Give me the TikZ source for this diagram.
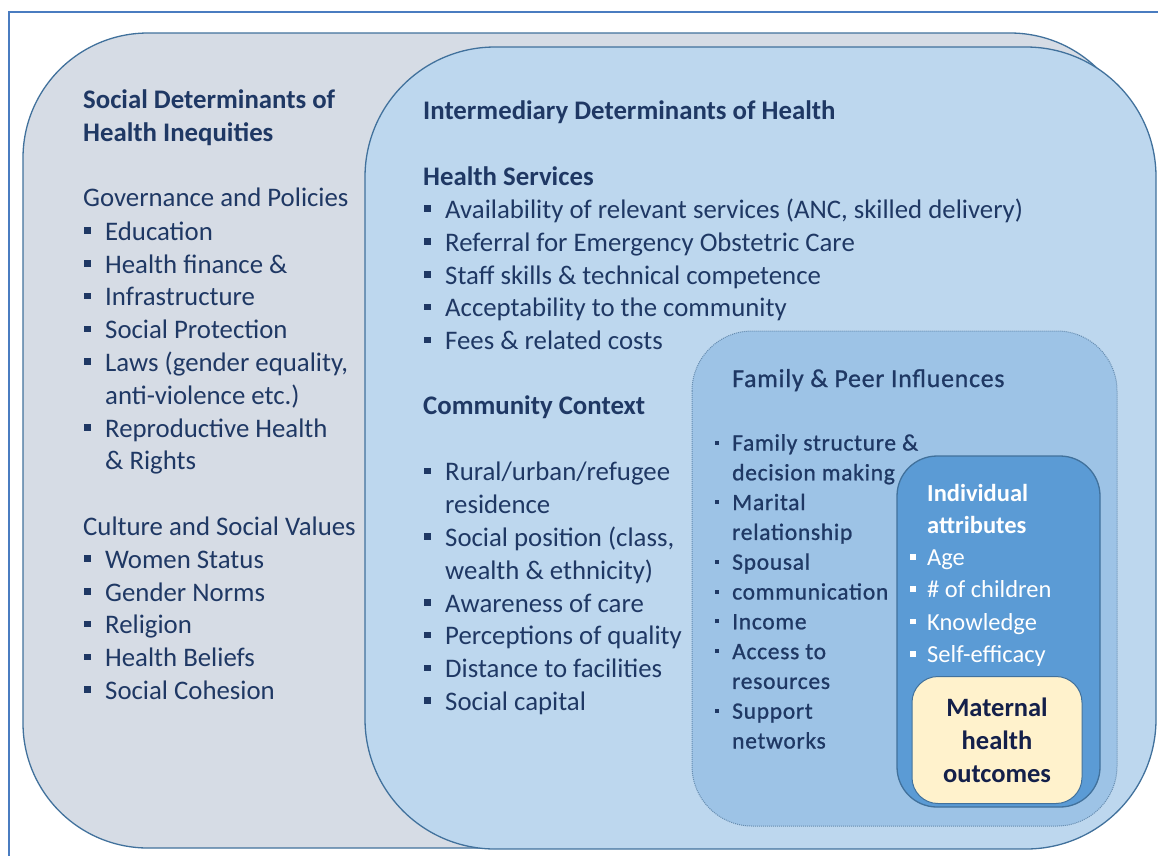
\documentclass[tikz,border=0pt]{standalone}
\usepackage{fontspec}
\setmainfont{Carlito}
\newfontfamily\famfont[FakeBold=0.9,LetterSpace=3]{Carlito}
\definecolor{navy}{HTML}{1F3864}
\definecolor{frameblue}{HTML}{4A7CC0}
\definecolor{edgeblue}{HTML}{41719C}
\definecolor{grayfill}{HTML}{D6DCE5}
\definecolor{lightblue}{HTML}{BDD7EE}
\definecolor{midblue}{HTML}{9DC3E6}
\definecolor{deepblue}{HTML}{5B9BD5}
\definecolor{cream}{HTML}{FFF2CC}
\definecolor{darktext}{HTML}{14204A}
\newcommand{\bul}{\makebox[22pt][l]{\hspace{1pt}\rule[6.5pt]{6.5pt}{6.5pt}}}
\newcommand{\ind}{\hspace{22pt}}
\newcommand{\sbul}{\makebox[19pt][l]{\hspace{2pt}\rule[6pt]{4pt}{4pt}}}
\newcommand{\sind}{\hspace{19pt}}
\newcommand{\wbul}{\makebox[18pt][l]{\hspace{1pt}\rule[6pt]{5.5pt}{5.5pt}}}
\tikzset{
  box/.style={draw=edgeblue, line width=1.3pt},
  lt/.style={anchor=base west, inner sep=0pt, text=navy, font=\fontsize{26.8}{32.8}\selectfont},
  ft/.style={anchor=base west, inner sep=0pt, text=navy, font=\famfont\fontsize{23.5}{29.8}\selectfont},
  it/.style={anchor=base west, inner sep=0pt, text=white, font=\fontsize{24.5}{32.3}\selectfont},
}
\begin{document}
\begin{tikzpicture}[x=1pt,y=-1pt]
\useasboundingbox (0,0) rectangle (1158,855);
% outer frame
\draw[frameblue, line width=2pt] (9,875) -- (9,12) -- (1175,12);
% gray box
\draw[box, fill=grayfill, rounded corners=125pt] (23,33) rectangle (1135,848);
% intermediary box
\draw[box, fill=lightblue, rounded corners=130pt] (365,47) rectangle (1156,849);
% family box
\draw[draw=edgeblue!80, line width=1pt, densely dotted, fill=midblue, rounded corners=60pt] (692,331) rectangle (1117,826);
% individual box
\draw[box, fill=deepblue, rounded corners=40pt] (897,456) rectangle (1100,807);
% maternal outcomes
\node[draw=edgeblue, line width=1pt, fill=cream, rounded corners=26pt,
      minimum width=170pt, minimum height=127pt, inner sep=0pt,
      align=center, text=darktext,
      font=\fontsize{26.5}{33}\selectfont\bfseries] (mat) at (997,740)
      {Maternal\\health\\outcomes};

% left column
\node[lt] (l1) at (83,108.5) {\bfseries Social Determinants of};
\node[lt] (l2) at (83,141.3) {\bfseries Health Inequities};
\node[lt] (l4) at (83,206.9) {Governance and Policies};
\node[lt] (l5) at (83,240.2) {\bul Education};
\node[lt] (l6) at (83,273.0) {\bul Health finance \&};
\node[lt] (l7) at (83,305.8) {\bul Infrastructure};
\node[lt] (l8) at (83,338.6) {\bul Social Protection};
\node[lt] (l9) at (83,371.4) {\bul Laws (gender equality,};
\node[lt] (l10) at (83,404.2) {\ind anti-violence etc.)};
\node[lt] (l11) at (83,437.0) {\bul Reproductive Health};
\node[lt] (l12) at (83,469.8) {\ind \& Rights};
\node[lt] (l14) at (83,535.4) {Culture and Social Values};
\node[lt] (l15) at (83,568.2) {\bul Women Status};
\node[lt] (l16) at (83,601.0) {\bul Gender Norms};
\node[lt] (l17) at (83,633.8) {\bul Religion};
\node[lt] (l18) at (83,666.6) {\bul Health Beliefs};
\node[lt] (l19) at (83,699.4) {\bul Social Cohesion};

% middle column
\node[lt] (m1) at (423,119.5) {\bfseries Intermediary Determinants of Health};
\node[lt] (m3) at (423,185.1) {\bfseries Health Services};
\node[lt] (m4) at (423,218.4) {\bul Availability of relevant services (ANC, skilled delivery)};
\node[lt] (m5) at (423,251.2) {\bul Referral for Emergency Obstetric Care};
\node[lt] (m6) at (423,284.0) {\bul Staff skills \& technical competence};
\node[lt] (m7) at (423,316.8) {\bul Acceptability to the community};
\node[lt] (m8) at (423,349.6) {\bul Fees \& related costs};
\node[lt] (m10) at (423,414.7) {\bfseries Community Context};
\node[lt] (m12) at (423,480.8) {\bul Rural/urban/refugee};
\node[lt] (m13) at (423,513.6) {\ind residence};
\node[lt] (m14) at (423,546.4) {\bul Social position (class,};
\node[lt] (m15) at (423,579.2) {\ind wealth \& ethnicity)};
\node[lt] (m16) at (423,612.0) {\bul Awareness of care};
\node[lt] (m17) at (423,644.8) {\bul Perceptions of quality};
\node[lt] (m18) at (423,677.6) {\bul Distance to facilities};
\node[lt] (m19) at (423,710.4) {\bul Social capital};

% family column
\node[ft, font=\famfont\fontsize{25.8}{30}\selectfont] (f0) at (732,387) {Family \& Peer Influences};
\node[ft] (f1) at (713,450.5) {\sbul Family structure \&};
\node[ft] (f2) at (713,480.3) {\sind decision making};
\node[ft] (f3) at (713,510.1) {\sbul Marital};
\node[ft] (f4) at (713,539.9) {\sind relationship};
\node[ft] (f5) at (713,569.7) {\sbul Spousal};
\node[ft] (f6) at (713,599.5) {\sbul communication};
\node[ft] (f7) at (713,629.3) {\sbul Income};
\node[ft] (f8) at (713,659.1) {\sbul Access to};
\node[ft] (f9) at (713,688.9) {\sind resources};
\node[ft] (f10) at (713,718.7) {\sbul Support};
\node[ft] (f11) at (713,748.5) {\sind networks};

% individual column
\node[it] (i1) at (927,501) {\bfseries Individual};
\node[it] (i2) at (927,533.3) {\bfseries attributes};
\node[it] (i3) at (909,565.6) {\wbul Age};
\node[it] (i4) at (909,597.9) {\wbul \# of children};
\node[it] (i5) at (909,630.2) {\wbul Knowledge};
\node[it] (i6) at (909,662.5) {\wbul Self-efficacy};
\end{tikzpicture}
\end{document}
